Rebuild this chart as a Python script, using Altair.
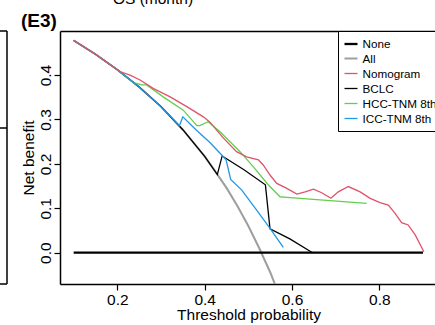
import altair as alt
import pandas as pd

FONT = "Liberation Sans"

series_names = ["None", "All", "Nomogram", "BCLC", "HCC-TNM 8th", "ICC-TNM 8th"]
series_colors = ["#000000", "#9E9E9E", "#DF536B", "#000000", "#61D04F", "#2297E6"]
series_widths = [2.3, 2.0, 1.3, 1.3, 1.3, 1.3]
draw_order = ["All", "None", "BCLC", "HCC-TNM 8th", "ICC-TNM 8th", "Nomogram"]

none_x = [0.10, 0.90]
none_y = [0.0, 0.0]

all_x = [0.10, 0.15, 0.20, 0.25, 0.30, 0.35, 0.40, 0.425, 0.45, 0.475, 0.50, 0.525, 0.55, 0.575, 0.60]
all_y = [0.478, 0.447, 0.412, 0.373, 0.329, 0.277, 0.217, 0.182, 0.146, 0.105, 0.060, 0.010, -0.044, -0.106, -0.175]

nomo_x = [0.10, 0.15, 0.206, 0.229, 0.252, 0.282, 0.321, 0.359, 0.397, 0.412, 0.443, 0.473, 0.496,
          0.523, 0.534, 0.5496, 0.565, 0.588, 0.611, 0.630, 0.649, 0.668, 0.689, 0.706, 0.729,
          0.756, 0.779, 0.8015, 0.8205, 0.836, 0.851, 0.866, 0.882, 0.902]
nomo_y = [0.478, 0.447, 0.408, 0.400, 0.389, 0.370, 0.351, 0.329, 0.306, 0.294, 0.258, 0.2275, 0.216,
          0.209, 0.1975, 0.175, 0.156, 0.145, 0.132, 0.137, 0.143, 0.135, 0.1225, 0.137, 0.149,
          0.137, 0.1225, 0.1126, 0.1074, 0.0887, 0.0676, 0.0624, 0.040, 0.002]

bclc_x = [0.10, 0.15, 0.20, 0.25, 0.30, 0.35, 0.40, 0.429, 0.440, 0.490, 0.539, 0.5496, 0.595, 0.647]
bclc_y = [0.478, 0.447, 0.412, 0.373, 0.329, 0.277, 0.217, 0.176, 0.218, 0.187, 0.153, 0.054, 0.031, 0.0]

hcc_x = [0.10, 0.15, 0.20, 0.237, 0.256, 0.267, 0.305, 0.351, 0.382, 0.389, 0.408, 0.435, 0.481,
         0.511, 0.546, 0.5725, 0.588, 0.771]
hcc_y = [0.478, 0.447, 0.412, 0.383, 0.378, 0.378, 0.351, 0.321, 0.286, 0.286, 0.295, 0.2725, 0.2275,
         0.194, 0.1525, 0.126, 0.1248, 0.111]

icc_x = [0.10, 0.15, 0.20, 0.25, 0.30, 0.342, 0.350, 0.380, 0.412, 0.439, 0.449, 0.4595, 0.485,
         0.519, 0.5496, 0.580]
icc_y = [0.478, 0.447, 0.412, 0.373, 0.329, 0.286, 0.306, 0.277, 0.248, 0.220, 0.209, 0.165, 0.141,
         0.096, 0.055, 0.012]

x_ticks = [0.2, 0.4, 0.6, 0.8]
y_ticks = [0.0, 0.1, 0.2, 0.3, 0.4]
x_domain = [0.0687, 0.9274]
y_domain = [-0.0705, 0.4993]

rows = []
for name, xs, ys in [("None", none_x, none_y), ("All", all_x, all_y), ("Nomogram", nomo_x, nomo_y),
                     ("BCLC", bclc_x, bclc_y), ("HCC-TNM 8th", hcc_x, hcc_y),
                     ("ICC-TNM 8th", icc_x, icc_y)]:
    for i, (a, b) in enumerate(zip(xs, ys)):
        rows.append({"series": name, "pt": a, "nb": b, "idx": i})
df = pd.DataFrame(rows)

W, H = 375, 253

legend = alt.Legend(
    orient="none", legendX=278, legendY=0, symbolType="stroke", symbolSize=169,
    labelFontSize=11.7, labelFont=FONT, labelColor="black", padding=5, strokeColor="black",
    fillColor="white", rowPadding=-0.5, labelOffset=3.5, labelLimit=200,
)
color = alt.Color("series:N", title=None,
                  scale=alt.Scale(domain=series_names, range=series_colors), legend=legend)
swidth = alt.StrokeWidth("series:N", title=None,
                         scale=alt.Scale(type="ordinal", domain=series_names, range=series_widths),
                         legend=legend)
y_enc = alt.Y("nb:Q", scale=alt.Scale(domain=y_domain, nice=False, zero=False),
              axis=alt.Axis(values=y_ticks, format=".1f", grid=False, title="Net benefit",
                            labelAngle=270, labelAlign="center", labelBaseline="alphabetic",
                            labelPadding=4, tickSize=6, titleAngle=270, titleX=-27, titleY=126.5,
                            titleAlign="center", titleBaseline="alphabetic"))
x_scale = alt.Scale(domain=x_domain, nice=False, zero=False)
x_bottom = alt.X("pt:Q", scale=x_scale,
                 axis=alt.Axis(values=x_ticks, format=".1f", grid=False,
                               title="Threshold probability", labelBaseline="alphabetic",
                               labelPadding=14, labelFlush=False, tickSize=6, titleX=188.5,
                               titleY=35.5, titleAlign="center", titleBaseline="alphabetic"))
x_none = alt.X("pt:Q", scale=x_scale, axis=None)

base = alt.Chart(df)
layers = []
for k, s in enumerate(draw_order):
    layers.append(
        base.transform_filter(alt.datum.series == s).mark_line(clip=True).encode(
            x=x_bottom if k == 0 else x_none, y=y_enc, color=color, strokeWidth=swidth,
            order="idx:Q")
    )

top_frame = base.transform_filter(alt.datum.series == "None").mark_line(opacity=0).encode(
    x=alt.X("pt:Q", scale=x_scale,
            axis=alt.Axis(orient="top", labels=False, ticks=False, title=None, grid=False)),
    y=y_enc,
)

label_e3 = alt.Chart(pd.DataFrame({"t": ["(E3)"]})).mark_text(
    font=FONT, fontSize=19, fontWeight="bold", align="center", baseline="alphabetic",
    color="black").encode(text="t:N", x=alt.value(-21), y=alt.value(-4))
label_os = alt.Chart(pd.DataFrame({"t": ["OS (month)"]})).mark_text(
    font=FONT, fontSize=15.5, align="center", baseline="alphabetic", color="black").encode(
    text="t:N", x=alt.value(93), y=alt.value(-27.5))
nb_left = alt.Chart(pd.DataFrame({"a": [0]})).mark_rule(color="black", strokeWidth=1.5).encode(
    x=alt.value(-53), y=alt.value(0), y2=alt.value(H))
nb_top = alt.Chart(pd.DataFrame({"a": [0]})).mark_rule(color="black", strokeWidth=1.5).encode(
    x=alt.value(-60), x2=alt.value(-53), y=alt.value(0))
nb_mid = alt.Chart(pd.DataFrame({"a": [0]})).mark_rule(color="black", strokeWidth=1.5).encode(
    x=alt.value(-60), x2=alt.value(-53), y=alt.value(97))
nb_bot = alt.Chart(pd.DataFrame({"a": [0]})).mark_rule(color="black", strokeWidth=1.5).encode(
    x=alt.value(-60), x2=alt.value(-53), y=alt.value(H))

chart = alt.layer(*layers, top_frame, label_e3, label_os, nb_left, nb_top, nb_mid, nb_bot).resolve_axis(
    x="independent"
).properties(
    width=W, height=H, autosize=alt.AutoSizeParams(type="none"),
    padding={"left": 60, "top": 31, "right": 0, "bottom": 41},
).configure_view(stroke=None).configure_axis(
    labelFont=FONT, titleFont=FONT, labelFontSize=15.5, titleFontSize=15.5,
    titleFontWeight="normal", labelColor="black", titleColor="black", domainColor="black",
    domainWidth=1.5, tickColor="black", tickWidth=1.2,
)

chart.save("out.html", embed_options={"renderer": "svg", "actions": False})
